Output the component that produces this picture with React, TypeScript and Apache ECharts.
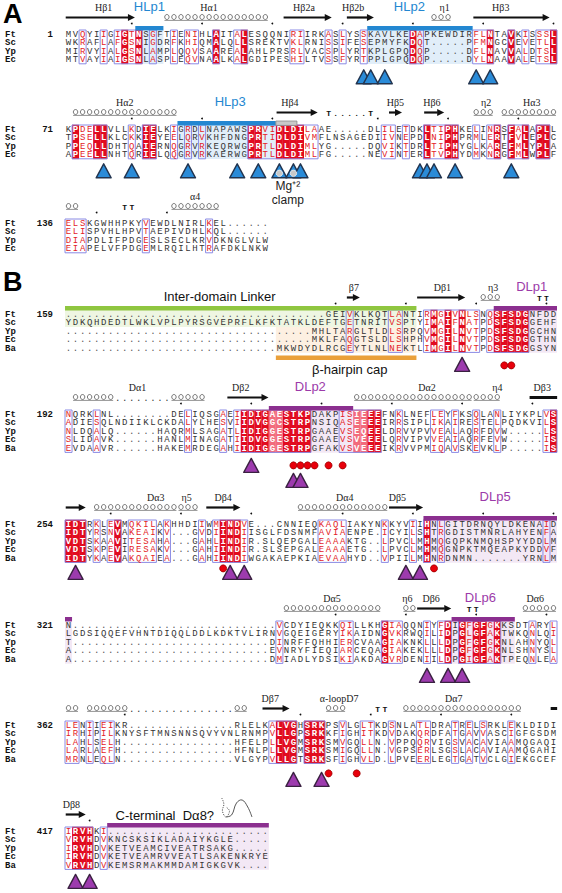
import React, { useEffect, useRef } from "react";
import * as echarts from "echarts";

const gap = (n: number) => ".".repeat(n);

const SPECIES_A = ["Ft", "Sc", "Yp", "Ec"];
const SPECIES_B = ["Ft", "Sc", "Yp", "Ec", "Ba"];

/* ---------------- Panel A ---------------- */
const A1_START = 1;
const A1_SEQ = [
  "MVQYIIGIGTNSGFTIENIHLAITALESQQNIRIIRKASLYSSKAVLKEDAPKEWDIRFLNTAVKISSSL",
  "WKRAFLAFGSNIGDRFKHIQMALQLLSREKTVKLRNISSIFESEPMYFKDQT.....PFMNGCVEVETLL",
  "MIRVYIALGSNLAMPLQQVSAAREALAHLPRSRLVACSPLYRTKPLGPQDQP.....DFLNAVVALDTSL",
  "MTVAYIAIGSNLASPLEQVNAALKALGDIPESHILTVSSFYRTPPLGPQDQP.....DYLNAAVALETSL",
];
const A1_IDENT = [9, 11, 22, 26, 50, 61, 64, 70];
const A1_SIMILAR = [3, 6, 8, 10, 13, 16, 18, 19, 25, 33, 34, 38, 40, 43, 51, 59, 60, 66, 68, 69];
const A1_STRANDS = [[1, 10], [32, 38], [41, 44], [59, 69]];
const A1_HELICES = [[15, 29], [53, 55]];
const A1_SS_LABELS = [["Hβ1", 6], ["Hα1", 21], ["Hβ2a", 34.5], ["Hβ2b", 41.5], ["η1", 54.5], ["Hβ3", 62.5]];
const A1_TAGS = [["HLp1", 12.5, "blue"], ["HLp2", 49.5, "blue"]];
const A1_BARS = [[11, 14, "blue"], [44, 58, "blue"]];
const A1_SHADES = [[11, 14, 0, 3, "blueL"], [44, 58, 0, 3, "blueL"]];
const A1_TRIANGLES = [43, 44, 46, 59, 61];

const A2_START = 71;
const A2_SEQ = [
  "KPDELLVLLKDIELKIGRDLNAPAWSPRVIDLDILAAE.....DLILETDKLTIPHKELINRSFALAPLL",
  "TPSELLKLCKKIEYEELQRVKHFDNGPRTIDLDIVMFLNSAGEDIIVNEPDLNIPHPRMLERTFVLEPLC",
  "PPEQLLDHTQAIERNQGRVRKEQRWGPRTLDLDIMLYG.....DQVIKTDRLTIPHYGLKAREFMLYPLA",
  "APEELLNHTQRIELQQGRVRKAERWGPRTLDLDIMLFG.....NEVINTERLTVPHYDMKNRGFMLWPLF",
];
const A2_IDENT = [2, 5, 6, 12, 13, 27, 28, 31, 32, 33, 34, 52, 55, 56, 62, 64, 66, 68, 69];
const A2_SIMILAR = [3, 4, 10, 16, 18, 20, 29, 30, 35, 36, 46, 47, 49, 53, 54, 59, 61, 65];
const A2_STRANDS = [[31, 36], [47, 48], [52, 54]];
const A2_HELICES = [[2, 16], [59, 61], [63, 70]];
const A2_TURNS = [["T.....T", 38]];
const A2_SS_LABELS = [["Hα2", 9], ["Hβ4", 32.5], ["Hβ5", 47.5], ["Hβ6", 52.7], ["η2", 60.4], ["Hα3", 66.9]];
const A2_TAGS = [["HLp3", 24, "blue"]];
const A2_BARS = [[17, 30, "blue"], [31, 33, "gray"]];
const A2_SHADES = [[17, 30, 0, 3, "blueL"]];
const A2_TRIANGLES = [6, 10, 18, 25, 28, 31, 33, 34, 51, 52, 53, 56, 64];
const A2_MG = [31, 33];

const A3_START = 136;
const A3_SEQ = [
  "ELSKGWHHPKYVEWDLNIRLKEL......",
  "ELISPVHLHPVTAEPIVDHLKQL......",
  "DIAPDLIFPDGESLSECLKRVDKNGLVLW",
  "EIAPELVFPDGEMLRQILHTRAFDKLNKW",
];
const A3_SIMILAR = [1, 2, 3, 12, 21];
const A3_HELICES = [[1, 2], [16, 22]];
const A3_TURNS = [["TT", 9]];
const A3_SS_LABELS = [["α4", 19]];

/* ---------------- Panel B ---------------- */
const B1_START = 159;
const B1_SEQ = [
  gap(37) + "GEIVKLKQTLANTIRMGIVNLSNQSFSDGNFDD",
  "YDKQHDEDTLWKLVPLPYRSGVEPRFLKFKTATKLDEFTGETNRITVSPTYIMAIFNATPDSFSDGGEHF",
  gap(35) + "MHLTARGLTLDLSRPQVMGILNVTPDSFSDGGCHN",
  gap(35) + "MKLFAQGTSLDLSHPHVMGILNVTPDSFSDGGTHN",
  gap(30) + "MKWDYDLRCGEYTLNLNEKTLIMGILNVTPDSFSDGGSYN",
];
const B1_IDENT = [53, 55, 57, 62, 63, 64, 65, 66];
const B1_SIMILAR = [41, 47, 48, 52, 54, 56, 58, 59, 61];
const B1_STRANDS = [[41, 42], [51, 57]];
const B1_HELICES = [[60, 62]];
const B1_TURNS = [["TT", 68]];
const B1_SS_LABELS = [["β7", 41.6], ["Dβ1", 54.2], ["η3", 61.4]];
const B1_TAGS = [["DLp1", 66.9, "purple"]];
const B1_BARS = [[1, 50, "green"], [62, 70, "purple"]];
const B1_SHADES = [[1, 50, 0, 1, "greenL"], [31, 50, 2, 4, "orangeL"], [62, 70, 0, 4, "purpleL"]];
const B1_CAP = [31, 50];
const B1_TRIANGLES = [57];
const B1_CIRCLES = [63, 64];

const B2_START = 192;
const B2_SEQ = [
  "NQRKLNL" + gap(8) + "DELIQSGAEIIDIGAESTKPDAKPISIEEEFNKLNEFLEYFKSQLANLIYKPLVS",
  "ADIESQLNDIIKLCKDALYLHESVIIDVGGCSTRPNSIQASEEEEIRRSIPLIKAIRESTELPQDKVILS",
  "NLDQALQ" + gap(6) + "HAQRMLSAGATLIDIGGESTRPGAAEVSEQEELDRVVPVVEALAQRFDVW" + gap(5) + "LS",
  "SLIDAVK" + gap(6) + "HANLMINAGATIIDVGGESTRPGAAEVSVEEELQRVIPVVEAIAQRFEVW" + gap(5) + "IS",
  "EVDAAVR" + gap(6) + "HAKEMRDEGAHIIDIGGESTRPGFAKVSVEEEIKRVVPMIQAVSKEVKLP" + gap(5) + "IS",
];
const B2_IDENT = [26, 27, 28, 29, 32, 33, 34, 35, 44, 45, 70];
const B2_LIGHT = [30, 31, 42, 43];
const B2_SIMILAR = [1, 5, 18, 23, 25, 40, 41, 48, 53, 54, 56, 59, 62, 69];
const B2_STRANDS = [[24, 29], [67, 70, 0]];
const B2_HELICES = [[2, 7], [16, 20], [42, 58], [59, 62]];
const B2_DOTTED = [[8, 15]];
const B2_SS_LABELS = [["Dα1", 10.8], ["Dβ2", 25.5], ["Dα2", 52], ["η4", 62], ["Dβ3", 68.4]];
const B2_TAGS = [["DLp2", 35.4, "purple"]];
const B2_BARS = [[30, 41, "purple"]];
const B2_SHADES = [[30, 41, 0, 4, "purpleL"]];
const B2_TRIANGLES = [27];
const B2_TRIANGLES_LOW = [33, 34];
const B2_CIRCLES = [33, 34, 35, 36, 38, 40];

const B3_START = 254;
const B3_SEQ = [
  "IDTRKLEVMQKILAKHHDIIWMINDVE...CNNIEQKAQLIAKYNKKYVIIHNLGITDRNQYLDKENAID",
  "IDTYRSNVAKEAIKV...GVDIINDIISGLFDSNMFAVIAENPE.ICYILSHTRGDISTMNRLAHYENFA",
  "VDTSKAAVITESAHA...GAHLINDIR.SLQEPGALEAAAKTG..LPVCLMHMQGQPKNMQHSPYYDDLM",
  "VDTSKPEVIRESAKV...GAHIINDIR.SLSEPGALEAAAETG..LPVCLMHMQGNPKTMQEAPKYDDVF",
  "IDTYKAEVAKQAIEA...GAHIINDIWGAKAEPKIAEVAAHYD..VPIILMHNRDNMN.......YRNLM",
];
const B3_IDENT = [1, 2, 3, 8, 23, 24, 25, 52];
const B3_SIMILAR = [5, 7, 10, 11, 12, 13, 15, 20, 22, 26, 37, 38, 39, 40, 46, 50, 54, 69];
const B3_STRANDS = [[1, 3], [21, 25], [47, 51]];
const B3_HELICES = [[5, 16], [17, 19], [34, 46]];
const B3_SS_LABELS = [["Dα3", 13.4], ["η5", 17.8], ["Dβ4", 23], ["Dα4", 40.3], ["Dβ5", 47.8]];
const B3_TAGS = [["DLp5", 61.7, "purple"]];
const B3_BARS = [[52, 70, "purple"]];
const B3_SHADES = [[52, 70, 0, 4, "purpleL"]];
const B3_TRIANGLES = [2, 24, 26, 49, 51];
const B3_CIRCLES = [23, 53];

const B4_START = 321;
const B4_SEQ = [
  "N" + gap(29) + "VCDYIEQKKQILLKHGIAQQNIYFDIGFGFGKKSDTARYL",
  "LGDSIQQEFVHNTDIQQLDDLKDKTVLIRNVGQEIGERYIKAIDNGVKRWQILIDPGLGFAKTWKQNLQI",
  "T" + gap(28) + "DINRFFQHHIERCVAAGIAKNKLLLDPGFGFGKNLAHNYQL",
  "A" + gap(28) + "EVNRYFIEQIARCEQAGIAKEKLLLDPGFGFGKNLSHNYSL",
  "A" + gap(28) + "DMIADLYDSIKIAKDAGVRDENIILDPGIGFAKTPEQNLEA",
];
const B4_IDENT = [46, 55, 57, 59, 60, 62];
const B4_SIMILAR = [31, 40, 41, 47, 48, 52, 54, 58, 61, 67, 70];
const B4_STRANDS = [[51, 55]];
const B4_HELICES = [[32, 45], [49, 50], [66, 70]];
const B4_TURNS = [["TT", 58]];
const B4_SS_LABELS = [["Dα5", 38.5], ["η6", 49.2], ["Dβ6", 52.6], ["Dα6", 67.4]];
const B4_TAGS = [["DLp6", 59.6, "purple"]];
const B4_BARS = [[1, 1, "purple"], [56, 64, "purple"]];
const B4_SHADES = [[1, 1, 0, 4, "purpleL"], [56, 64, 0, 4, "purpleL"]];
const B4_TRIANGLES = [52, 55, 57];

const B5_START = 362;
const B5_SEQ = [
  "LENIIEIKR" + gap(15) + "RLELKALVGHSRKPSVLGLTKDSNLATLDRATRELSRKLEKLDIDI",
  "IRHIPILKNYSFTMNSNNSQVYVNLRNMPVLLGPSRKKFIGHITKDVDAKQRDFATGAVVASCIGFGSDM",
  "LAHLSELH" + gap(16) + "HFELPLLVGMSRKSMVGQLLN.VPPQQRVIGSVACAVIAAMQGAQI",
  "LARLAEFH" + gap(16) + "HFNLPLLVGMSRKSMIGQLLN.VGPSERLSGSLACAVIAAMQGAHI",
  "MRNLEQLN" + gap(16) + "VLGYPVLLGTSRKSFIGHVLD.LPVEERLEGTGATVCLGIEKGCEF",
];
const B5_IDENT = [31, 32, 33, 35, 36, 37];
const B5_SIMILAR = [1, 2, 4, 6, 7, 30, 40, 43, 44, 47, 51, 52, 56, 58, 60, 64];
const B5_STRANDS = [[29, 32], [70, 70, 0]];
const B5_HELICES = [[1, 2], [4, 9], [25, 26], [38, 40], [49, 65]];
const B5_DOTTED = [[10, 24]];
const B5_TURNS = [["TT", 45]];
const B5_SS_LABELS = [["Dβ7", 29.7], ["α-loopD7", 39.5], ["Dα7", 55.8]];
const B5_TRIANGLES = [33, 37];
const B5_CIRCLES = [38, 42];

const B6_START = 417;
const B6_SEQ = [
  "IRVHKI" + gap(23),
  "VRVHDVKNCSKSIKLADAIYKGLE" + gap(5),
  "IRVHDVKETVEAMCIVEATRSAKG" + gap(5),
  "IRVHDVKETVEAMRVVEATLSAKENKRYE",
  "VRVHDVKEMSRMAKMMDAMIGKGVK" + gap(4),
];
const B6_IDENT = [2, 3, 4];
const B6_SIMILAR = [1, 6];
const B6_STRANDS = [[1, 3]];
const B6_SS_LABELS = [["Dβ8", 1.4]];
const B6_BARS = [[7, 29, "purple"]];
const B6_SHADES = [[7, 29, 0, 4, "purpleL"]];
const B6_TRIANGLES = [2, 4];

/* ---------------- styling & layout ---------------- */
const COLORS: Record<string, string> = {
  red: "#e10b1f", redL: "#f26b7c", frame: "#8a8ae4", redText: "#e31c27",
  ink: "#333333", gapInk: "#555555",
  blue: "#2387d1", blueL: "#e1eef9", gray: "#c9c9c9", green: "#8fc640", greenL: "#eef6e2",
  orange: "#eaa03a", orangeL: "#fdf0e2", purple: "#8b2f8f", purpleL: "#f3e8f5", purpleTag: "#9c3aa9",
  triBlue: "#2a8bd8", triBlueEdge: "#22344f", triPurple: "#9d3bae", triPurpleEdge: "#3a2141",
};
const SEQ_FONT = "9px 'Liberation Mono'";
const SEQ_FONT_B = "bold 9px 'Liberation Mono'";
const LABEL_FONT = "bold 9px 'Liberation Mono'";
const SS_FONT = "10px 'Liberation Serif'";
const TURN_FONT = "bold 8px 'Liberation Mono'";
const TAG_FONT = "13px 'Liberation Sans'";
const NOTE_FONT = "13px 'Liberation Sans'";

const ROW_H = 8.6;
const X_MIN = -9.25;
const X_MAX = 70;
const PLOT_W = 557;
const UNIT = PLOT_W / (X_MAX - X_MIN);
const pxToX = (px: number) => px / UNIT + X_MIN;

const LAYOUT: Record<string, any> = {
  A1: { y: 34, triDy: 10 },
  A2: { y: 129, triDy: 9 },
  A3: { y: 223 },
  B1: { y: 314, triDy: 9, circDy: 17 },
  B2: { y: 414, triDy: 10, circDy: 17 },
  B3: { y: 524, triDy: 7, circDy: 10 },
  B4: { y: 625, triDy: 9 },
  B5: { y: 725, triDy: 13, circDy: 14 },
  B6: { y: 831, triDy: 9 },
};

const BLOCKS: any[] = [
  { id: "A1", species: SPECIES_A, seq: A1_SEQ, start: A1_START, ident: A1_IDENT, light: [], similar: A1_SIMILAR, strands: A1_STRANDS, helices: A1_HELICES, dotted: [], turns: [], ssLabels: A1_SS_LABELS, tags: A1_TAGS, bars: A1_BARS, shades: A1_SHADES, tris: A1_TRIANGLES, trisLow: [], circles: [], tri: "blue" },
  { id: "A2", species: SPECIES_A, seq: A2_SEQ, start: A2_START, ident: A2_IDENT, light: [], similar: A2_SIMILAR, strands: A2_STRANDS, helices: A2_HELICES, dotted: [], turns: A2_TURNS, ssLabels: A2_SS_LABELS, tags: A2_TAGS, bars: A2_BARS, shades: A2_SHADES, tris: A2_TRIANGLES, trisLow: [], circles: [], tri: "blue" },
  { id: "A3", species: SPECIES_A, seq: A3_SEQ, start: A3_START, ident: [], light: [], similar: A3_SIMILAR, strands: [], helices: A3_HELICES, dotted: [], turns: A3_TURNS, ssLabels: A3_SS_LABELS, tags: [], bars: [], shades: [], tris: [], trisLow: [], circles: [], tri: "blue" },
  { id: "B1", species: SPECIES_B, seq: B1_SEQ, start: B1_START, ident: B1_IDENT, light: [], similar: B1_SIMILAR, strands: B1_STRANDS, helices: B1_HELICES, dotted: [], turns: B1_TURNS, ssLabels: B1_SS_LABELS, tags: B1_TAGS, bars: B1_BARS, shades: B1_SHADES, tris: B1_TRIANGLES, trisLow: [], circles: B1_CIRCLES, tri: "purple" },
  { id: "B2", species: SPECIES_B, seq: B2_SEQ, start: B2_START, ident: B2_IDENT, light: B2_LIGHT, similar: B2_SIMILAR, strands: B2_STRANDS, helices: B2_HELICES, dotted: B2_DOTTED, turns: [], ssLabels: B2_SS_LABELS, tags: B2_TAGS, bars: B2_BARS, shades: B2_SHADES, tris: B2_TRIANGLES, trisLow: B2_TRIANGLES_LOW, circles: B2_CIRCLES, tri: "purple" },
  { id: "B3", species: SPECIES_B, seq: B3_SEQ, start: B3_START, ident: B3_IDENT, light: [], similar: B3_SIMILAR, strands: B3_STRANDS, helices: B3_HELICES, dotted: [], turns: [], ssLabels: B3_SS_LABELS, tags: B3_TAGS, bars: B3_BARS, shades: B3_SHADES, tris: B3_TRIANGLES, trisLow: [], circles: B3_CIRCLES, tri: "purple" },
  { id: "B4", species: SPECIES_B, seq: B4_SEQ, start: B4_START, ident: B4_IDENT, light: [], similar: B4_SIMILAR, strands: B4_STRANDS, helices: B4_HELICES, dotted: [], turns: B4_TURNS, ssLabels: B4_SS_LABELS, tags: B4_TAGS, bars: B4_BARS, shades: B4_SHADES, tris: B4_TRIANGLES, trisLow: [], circles: [], tri: "purple" },
  { id: "B5", species: SPECIES_B, seq: B5_SEQ, start: B5_START, ident: B5_IDENT, light: [], similar: B5_SIMILAR, strands: B5_STRANDS, helices: B5_HELICES, dotted: B5_DOTTED, turns: B5_TURNS, ssLabels: B5_SS_LABELS, tags: [], bars: [], shades: [], tris: B5_TRIANGLES, trisLow: [], circles: B5_CIRCLES, tri: "purple" },
  { id: "B6", species: SPECIES_B, seq: B6_SEQ, start: B6_START, ident: B6_IDENT, light: [], similar: B6_SIMILAR, strands: B6_STRANDS, helices: [], dotted: [], turns: [], ssLabels: B6_SS_LABELS, tags: [], bars: B6_BARS, shades: B6_SHADES, tris: B6_TRIANGLES, trisLow: [], circles: [], tri: "purple" },
];

function runs(cols: number[]) {
  const s = Array.from(new Set(cols)).sort((a, b) => a - b);
  const out: number[][] = [];
  for (const c of s) {
    const last = out[out.length - 1];
    if (last && c === last[1] + 1) last[1] = c;
    else out.push([c, c]);
  }
  return out;
}

function buildItems() {
  const items: any[] = [];
  const text = (x: number, y: number, t: string, font: string, color: string, align = "center", va = "middle") =>
    items.push({ k: "t", x, y, text: t, font, color, align, va });

  for (const b of BLOCKS) {
    const L = LAYOUT[b.id];
    const y0 = L.y;
    const n = b.seq.length;
    const rowY = (r: number) => y0 + r * ROW_H;
    const top = y0 - ROW_H / 2;
    const bot = rowY(n - 1) + ROW_H / 2;
    const lastY = rowY(n - 1);

    for (const [c1, c2, r1, r2, key] of b.shades)
      items.push({ k: "rect", c1, c2, y1: rowY(r1) - ROW_H / 2, y2: rowY(r2) + ROW_H / 2, fill: COLORS[key] });
    for (const c of b.ident) items.push({ k: "rect", c1: c, c2: c, y1: top, y2: bot, fill: COLORS.red });
    for (const c of b.light) items.push({ k: "rect", c1: c, c2: c, y1: top, y2: bot, fill: COLORS.redL });
    for (const [c1, c2] of runs([...b.ident, ...b.light, ...b.similar]))
      items.push({ k: "rect", c1, c2, y1: top + 0.3, y2: bot - 0.3, fill: "none", stroke: COLORS.frame, lw: 1 });

    const strong = new Set([...b.ident, ...b.light]);
    const sim = new Set(b.similar);
    b.seq.forEach((s: string, r: number) => {
      for (let i = 0; i < s.length; i++) {
        const ch = s[i];
        const c = i + 1;
        let color = COLORS.ink;
        let font = SEQ_FONT;
        if (ch === ".") color = COLORS.gapInk;
        else if (strong.has(c)) { color = "#ffffff"; font = SEQ_FONT_B; }
        else if (sim.has(c)) color = COLORS.redText;
        text(c - 0.5, rowY(r) + 0.5, ch, font, color);
      }
      text(pxToX(5), rowY(r) + 0.5, b.species[r], LABEL_FONT, "#111", "left");
    });
    text(pxToX(53), y0 + 0.5, String(b.start), LABEL_FONT, "#111", "right");

    // ruler dots every 10 residues of the reference (Ft)
    let res = b.start - 1;
    const ft = b.seq[0];
    for (let i = 0; i < ft.length; i++) {
      if (ft[i] !== ".") {
        res++;
        if (res % 10 === 0) items.push({ k: "dot", x: i + 0.5, y: y0 - 10.5 });
      }
    }

    // secondary structure
    for (const s of b.strands) items.push({ k: "arrow", c1: s[0], c2: s[1], y: y0 - 16.5, head: s[2] !== 0 });
    for (const h of b.helices) items.push({ k: "helix", c1: h[0], c2: h[1], y: y0 - 17 });
    for (const [c1, c2] of b.dotted) for (let c = c1; c <= c2; c++) text(c - 0.5, y0 - 15, ".", SEQ_FONT, "#333");
    for (const [str, c0] of b.turns) for (let j = 0; j < str.length; j++) text(c0 + j - 0.5, y0 - 15.5, str[j], TURN_FONT, "#111");
    for (const [t, c] of b.ssLabels) text(c - 0.5, y0 - 27, t, SS_FONT, "#222");
    for (const [t, c, key] of b.tags) text(c - 0.5, y0 - 28, t, TAG_FONT, key === "blue" ? COLORS.blue : COLORS.purpleTag);
    for (const [c1, c2, key] of b.bars)
      items.push({ k: "rect", c1, c2, y1: y0 - 8, y2: y0 - 3.6, fill: COLORS[key], stroke: key === "gray" ? "#8a8a8a" : null, lw: key === "gray" ? 0.8 : 0 });

    const triFill = b.tri === "blue" ? COLORS.triBlue : COLORS.triPurple;
    const triEdge = b.tri === "blue" ? COLORS.triBlueEdge : COLORS.triPurpleEdge;
    for (const c of b.tris) items.push({ k: "tri", x: c - 0.5, y: lastY + L.triDy, fill: triFill, stroke: triEdge });
    for (const c of b.trisLow) items.push({ k: "tri", x: c - 0.5, y: lastY + L.triDy + 15, fill: triFill, stroke: triEdge });
    for (const c of b.circles) items.push({ k: "circ", x: c - 0.5, y: lastY + L.circDy, r: 3.5, fill: "#e8000b", stroke: "#9a0000" });

    // block specific notes
    if (b.id === "A2") {
      for (const c of A2_MG) items.push({ k: "circ", x: c - 0.5, y: lastY + L.triDy + 9.5, r: 3.2, fill: "#c8c8c8", stroke: "#f4f4f4" });
      text(31.7, lastY + 31, "Mg⁺²", "12px 'Liberation Sans'", "#222");
      text(31.7, lastY + 45, "clamp", "12px 'Liberation Sans'", "#222");
    }
    if (b.id === "B1") {
      text(22, y0 - 18, "Inter-domain Linker", NOTE_FONT, "#111");
      items.push({ k: "rect", c1: B1_CAP[0], c2: B1_CAP[1], y1: lastY + 7, y2: lastY + 11.5, fill: COLORS.orange });
      text(40.5, lastY + 21, "β-hairpin cap", NOTE_FONT, "#111");
    }
    if (b.id === "B6") {
      text(14.2, y0 - 16, "C-terminal  Dα8?", NOTE_FONT, "#111");
      items.push({ k: "poly", pts: [[22.3, y0 - 33], [22.6, y0 - 27], [22.4, y0 - 20], [22.9, y0 - 14], [23.4, y0 - 20], [22.9, y0 - 24]], dash: true });
      items.push({ k: "poly", pts: [[22.9, y0 - 14], [23.7, y0 - 16], [24.4, y0 - 28], [25.2, y0 - 31], [26.0, y0 - 24], [26.6, y0 - 14]], dash: false });
    }
  }
  return items;
}

const ITEMS = buildItems();

function renderItem(params: any, api: any) {
  const it = ITEMS[params.dataIndex];
  const P = (x: number, y: number) => api.coord([x, y]);
  switch (it.k) {
    case "rect": {
      const a = P(it.c1 - 1, it.y1);
      const b = P(it.c2, it.y2);
      return {
        type: "rect",
        shape: { x: a[0], y: a[1], width: b[0] - a[0], height: b[1] - a[1] },
        style: { fill: it.fill, stroke: it.stroke || null, lineWidth: it.lw || 0 },
      };
    }
    case "t": {
      const p = P(it.x, it.y);
      return {
        type: "text",
        x: p[0],
        y: p[1],
        style: { text: it.text, fill: it.color, font: it.font, textAlign: it.align, textVerticalAlign: it.va, align: it.align, verticalAlign: it.va },
      };
    }
    case "dot": {
      const p = P(it.x, it.y);
      return { type: "circle", shape: { cx: p[0], cy: p[1], r: 0.9 }, style: { fill: "#111" } };
    }
    case "arrow": {
      const a = P(it.c1 - 1 + 0.1, it.y);
      const b = P(it.c2 - 0.05, it.y);
      const head = it.head ? 7 : 0;
      const children: any[] = [
        { type: "line", shape: { x1: a[0], y1: a[1], x2: b[0] - head + 0.5, y2: b[1] }, style: { stroke: "#111", lineWidth: it.head ? 2.2 : 3 } },
      ];
      if (it.head)
        children.push({ type: "polygon", shape: { points: [[b[0] - head, b[1] - 3.6], [b[0], b[1]], [b[0] - head, b[1] + 3.6]] }, style: { fill: "#111" } });
      return { type: "group", children };
    }
    case "helix": {
      const children: any[] = [];
      for (let c = it.c1; c <= it.c2; c++) {
        const p = P(c - 0.5, it.y);
        children.push({ type: "ellipse", shape: { cx: p[0], cy: p[1], rx: 2.2, ry: 2.5 }, style: { fill: "none", stroke: "#555", lineWidth: 0.8 } });
      }
      const a = P(it.c1 - 1 + 0.15, it.y + 3.4);
      const b = P(it.c2 - 0.15, it.y + 3.4);
      children.push({ type: "line", shape: { x1: a[0], y1: a[1], x2: b[0], y2: b[1] }, style: { stroke: "#777", lineWidth: 0.8 } });
      return { type: "group", children };
    }
    case "tri": {
      const p = P(it.x, it.y);
      return {
        type: "polygon",
        shape: { points: [[p[0], p[1]], [p[0] - 7.5, p[1] + 14], [p[0] + 7.5, p[1] + 14]] },
        style: { fill: it.fill, stroke: it.stroke, lineWidth: 1.4, lineJoin: "round" },
      };
    }
    case "circ": {
      const p = P(it.x, it.y);
      return { type: "circle", shape: { cx: p[0], cy: p[1], r: it.r }, style: { fill: it.fill, stroke: it.stroke, lineWidth: 0.8 } };
    }
    case "poly": {
      const pts = it.pts.map((q: number[]) => P(q[0], q[1]));
      return { type: "polyline", shape: { points: pts, smooth: 0.4 }, style: { fill: "none", stroke: "#444", lineWidth: 0.9, lineDash: it.dash ? [1.2, 1.2] : null } };
    }
  }
  return null;
}

export default function App() {
  const ref = useRef<HTMLDivElement>(null);
  useEffect(() => {
    const chart = echarts.init(ref.current as HTMLDivElement, null, { renderer: "svg" });
    chart.setOption({
      animation: false,
      backgroundColor: "#ffffff",
      grid: { left: 0, right: 562 - PLOT_W, top: 0, bottom: 0 },
      xAxis: { type: "value", min: X_MIN, max: X_MAX, show: false },
      yAxis: { type: "value", min: 0, max: 893, inverse: true, show: false },
      graphic: [
        { type: "text", left: 3, top: 0, style: { text: "A", font: "bold 27px 'Liberation Sans'", fill: "#000" } },
        { type: "text", left: 3, top: 268, style: { text: "B", font: "bold 27px 'Liberation Sans'", fill: "#000" } },
      ],
      series: [
        {
          type: "custom",
          coordinateSystem: "cartesian2d",
          renderItem,
          encode: { x: 0, y: 1 },
          data: ITEMS.map((it, i) => [it.x ?? (it.c1 ?? 0), it.y ?? (it.y1 ?? 0), i]),
          clip: false,
          silent: true,
          progressive: 0,
          animation: false,
        },
      ],
    });
    return () => chart.dispose();
  }, []);
  return <div ref={ref} style={{ position: "absolute", left: 0, top: 0, width: 562, height: 893 }} />;
}
